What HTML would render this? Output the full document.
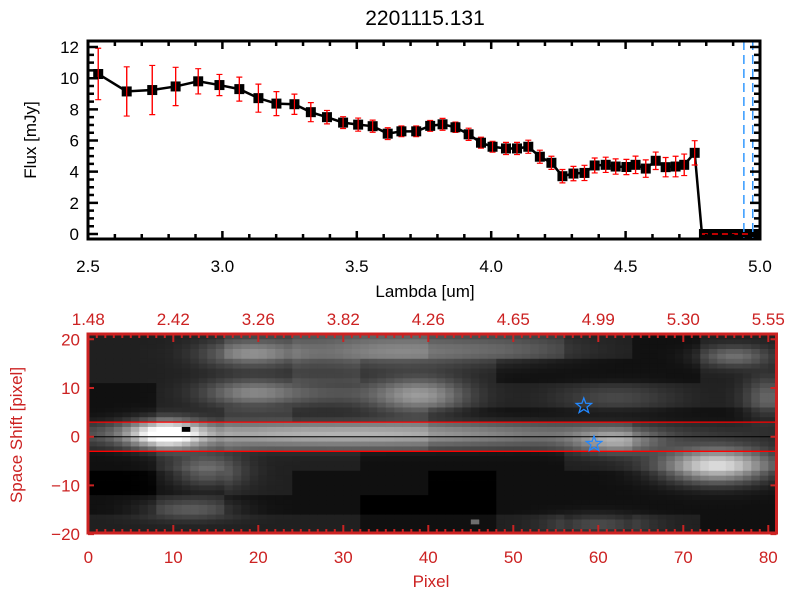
<!DOCTYPE html>
<html><head><meta charset="utf-8">
<style>
html,body{margin:0;padding:0;background:#fff;}
svg{display:block;font-family:"Liberation Sans","DejaVu Sans",sans-serif;}
</style></head>
<body>
<svg id="chart" width="800" height="600" viewBox="0 0 800 600">
  <defs><clipPath id="imgClip"><rect x="88" y="334" width="688.5" height="199"/></clipPath></defs>
  <rect x="0" y="0" width="800" height="600" fill="#fff"/>
  <text x="425" y="25" font-size="21" text-anchor="middle" fill="#000">2201115.131</text>
  <g id="topPanel"></g>
  <g id="bottomPanel"></g>
</svg>
<script>
// ---------- spectrum data ----------
const lambda = [2.538,2.644,2.739,2.826,2.910,2.989,3.063,3.134,3.201,3.268,3.329,3.389,3.449,3.505,3.559,3.615,3.666,3.721,3.773,3.819,3.867,3.916,3.962,4.005,4.055,4.096,4.138,4.181,4.224,4.265,4.306,4.347,4.385,4.426,4.463,4.503,4.537,4.575,4.612,4.649,4.686,4.718,4.757];
const flux = [10.27,9.15,9.24,9.47,9.8,9.56,9.3,8.72,8.37,8.33,7.82,7.5,7.15,7.02,6.92,6.44,6.59,6.59,6.94,7.04,6.85,6.4,5.86,5.6,5.49,5.49,5.6,4.96,4.57,3.71,3.88,3.92,4.4,4.44,4.33,4.3,4.44,4.2,4.7,4.29,4.33,4.44,5.21];
const fluxErr = [1.65,1.58,1.58,1.23,0.81,0.68,0.77,0.9,0.77,0.65,0.61,0.43,0.38,0.42,0.39,0.38,0.34,0.34,0.35,0.38,0.33,0.39,0.35,0.35,0.39,0.39,0.42,0.42,0.42,0.43,0.46,0.49,0.48,0.49,0.49,0.49,0.56,0.56,0.56,0.62,0.66,0.69,0.78];
const zeroLambda = [4.784,5.0];
const markerLambda = [4.94,4.973];
const xTicks = ["2.5","3.0","3.5","4.0","4.5","5.0"];
const yTicks = ["0","2","4","6","8","10","12"];
// ---------- image data ----------
const topTickLabels = ["1.48","2.42","3.26","3.82","4.26","4.65","4.99","5.30","5.55"];
const pixTicks = ["0","10","20","30","40","50","60","70","80"];
const shiftTicks = ["-20","-10","0","10","20"];
const bgLevels = [
 [2,2,3,4,4,3,3,2,1,2],
 [2,2,2,3,2,2,1,1,1,2],
 [1,2,2,2,2,2,2,2,2,2],
 [1,2,3,2,2,1,1,1,1,1],
 [2,3,4,4,4,3,3,3,2,2],
 [1,2,2,2,1,1,1,2,2,2],
 [0,1,2,1,1,0,1,1,1,1],
 [1,2,1,1,0,0,1,1,1,1],
 [2,2,2,2,1,1,2,1,2,1]];
const bgBandTop = [21,16,11,6,3,-3,-7,-12,-16];
const blobCol   = [9,  30, 62, 19, 36, 50, 19, 39, 28, 62, 14, 74, 76, 12, 60, 80];
const blobShift = [0.5,0.5,-1, 17, 17.5,18, 9, 8.5,9, 8, -7, -6, 16.5,-15,-18, 8];
const blobSC    = [3,  22, 3.5,4,  8,  6,  4, 4,  5, 5, 3, 4.5,3, 4, 4, 2];
const blobSS    = [2,  1.8,1.8,2,  2.5,2,  2, 2.5,2, 2, 2.5,2.5,1.5,1.5,1.5,3];
const blobAmp   = [200,115,100,90, 70, 35, 95,120,45,40,80, 190,80,60,60,70];
const darkCells = [[11,2]];
const grayCells = [[45,-17,110]];
const starCol = [58.3,59.5];
const starShift = [6.3,-1.5];
const apertureShift = [3,-3];

const NS='http://www.w3.org/2000/svg';
function mk(parent,tag,attrs){const el=document.createElementNS(NS,tag);for(const k in attrs)el.setAttribute(k,attrs[k]);parent.appendChild(el);return el;}

// ---------- top panel ----------
const topG = document.getElementById('topPanel');
const X0=88,X1=760,YT=41,YB=239;
const xs = v => X0 + (v-2.5)*(X1-X0)/2.5;
const ys = v => 234 - v*15.58;
let pts = lambda.map((l,i)=>xs(l)+','+ys(flux[i]));
pts.push(xs(zeroLambda[0])+','+ys(0));
const line = mk(topG,'polyline',{points:pts.join(' '),fill:'none',stroke:'#000','stroke-width':2.5});


lambda.forEach((l,i)=>{
  const x=xs(l);
  const eb=mk(topG,'path',{d:`M${x},${ys(flux[i]+fluxErr[i])}V${ys(flux[i]-fluxErr[i])}M${x-3},${ys(flux[i]+fluxErr[i])}h6M${x-3},${ys(flux[i]-fluxErr[i])}h6`,stroke:'#ff0000','stroke-width':1.2,fill:'none'});
  
  
});
lambda.forEach((l,i)=>{
  const x=xs(l),y=ys(flux[i]);
  const m=mk(topG,'rect',{x:x-5,y:y-5,width:10,height:10,fill:'#000'});
  
  
  const eb=mk(topG,'path',{d:`M${x},${ys(flux[i]+fluxErr[i])}V${ys(flux[i]-fluxErr[i])}`,stroke:'#ff0000','stroke-width':1.2});
  
  
});
const zb=mk(topG,'rect',{x:xs(zeroLambda[0])-3,y:229,width:xs(zeroLambda[1])-xs(zeroLambda[0])+3,height:10,fill:'#000'});


const zd=mk(topG,'line',{x1:xs(zeroLambda[0]),x2:xs(zeroLambda[1]),y1:ys(0),y2:ys(0),stroke:'#ff0000','stroke-width':1.5,'stroke-dasharray':'6,4'});


markerLambda.forEach(l=>{
  const v=mk(topG,'line',{x1:xs(l),x2:xs(l),y1:YT,y2:YB,stroke:'#3399ff','stroke-width':1.5,'stroke-dasharray':'9,5'});
  
  
});
const fr=mk(topG,'rect',{x:X0,y:YT,width:X1-X0,height:YB-YT,fill:'none',stroke:'#000','stroke-width':3});


let tk='';
for(let i=0;i<=25;i++){const x=xs(2.5+i*0.1);const L=(i%5==0)?8:5;tk+=`M${x},${YB}v${-L}M${x},${YT}v${L}`;}
for(let i=0;i<=24;i++){const y=ys(i*0.5);if(y<YT)continue;const L=(i%4==0)?10:6;tk+=`M${X0},${y}h${L}M${X1},${y}h${-L}`;}
const tp=mk(topG,'path',{d:tk,stroke:'#000','stroke-width':2.5});


xTicks.forEach(t=>{
  const el=mk(topG,'text',{x:xs(parseFloat(t)),y:272,'font-size':17,'text-anchor':'middle',fill:'#000'});
  el.textContent=t;
  
  
});
yTicks.forEach(t=>{
  const el=mk(topG,'text',{x:79,y:ys(parseFloat(t))+6,'font-size':17,'text-anchor':'end',fill:'#000'});
  el.textContent=t;
  
  
});
let tx=mk(topG,'text',{x:425,y:297,'font-size':17,'text-anchor':'middle',fill:'#000'});
tx.textContent='Lambda [um]';


tx=mk(topG,'text',{x:0,y:0,'font-size':17,'text-anchor':'middle',fill:'#000',transform:'translate(36,140) rotate(-90)'});
tx.textContent='Flux [mJy]';



// ---------- bottom panel ----------
const botG=document.getElementById('bottomPanel');
const BX0=88.3, BXW=8.5, BY0=436.7, BYH=4.87, BL=88, BR=776.5, BT=334, BB=533;
const px = c => BX0 + c*BXW;
const py = s => BY0 - s*BYH;
const img=mk(botG,'g',{'clip-path':'url(#imgClip)'});


function bgAt(c,s){let r=0;for(let i=0;i<bgBandTop.length;i++){if(s<=bgBandTop[i])r=i;}const g=Math.min(9,Math.floor(c/8));return bgLevels[r][g]*16;}
for(let c=0;c<81;c++){
  for(let s=22;s>-21;s--){
    const sc=s-0.5;
    let v=bgAt(c,sc);
    for(let b=0;b<blobCol.length;b++){
      const dc=(c+0.5-blobCol[b])/blobSC[b], ds=(sc-blobShift[b])/blobSS[b];
      v+=blobAmp[b]*Math.exp(-0.5*(dc*dc+ds*ds));
    }
    darkCells.forEach(d=>{if(d[0]==c&&d[1]==s)v=0;});
    grayCells.forEach(d=>{if(d[0]==c&&d[1]==s)v=d[2];});
    v=Math.max(0,Math.min(255,Math.round(v)));
    const r=mk(img,'rect',{x:px(c),y:py(s),width:BXW+0.4,height:BYH+0.4,fill:`rgb(${v},${v},${v})`});
    
    
  }
}
apertureShift.forEach(s=>{
  const l=mk(botG,'line',{x1:BL,x2:BR,y1:py(s),y2:py(s),stroke:'#ff0000','stroke-width':1.3});
  
  
});
const cl=mk(botG,'line',{x1:BL,x2:BR,y1:py(0),y2:py(0),stroke:'#000','stroke-width':1});


function star(cx,cy,R){let p=[];for(let i=0;i<10;i++){const a=-Math.PI/2+i*Math.PI/5;const rr=i%2?R*0.42:R;p.push((cx+rr*Math.cos(a)).toFixed(1)+','+(cy+rr*Math.sin(a)).toFixed(1));}return p.join(' ');}
starCol.forEach((c,i)=>{
  const s=mk(botG,'polygon',{points:star(px(c),py(starShift[i]),8),fill:'none',stroke:'#2288ff','stroke-width':1.3});
  
  
});
const RED='#cc2222';
const bf=mk(botG,'rect',{x:BL,y:BT,width:BR-BL,height:BB-BT,fill:'none',stroke:RED,'stroke-width':3});


let bt='';
for(let c=0;c<=81;c++){const x=px(c);const L=(c%10==0)?8:4;bt+=`M${x},${BB}v${-L}M${x},${BT}v${L}`;}
for(let s=-20;s<=20;s+=10){const y=py(s);bt+=`M${BL},${y}h6M${BR},${y}h-6`;}
const btp=mk(botG,'path',{d:bt,stroke:RED,'stroke-width':2});


pixTicks.forEach(t=>{
  const el=mk(botG,'text',{x:px(parseFloat(t)),y:563,'font-size':17,'text-anchor':'middle',fill:RED});
  el.textContent=t;
  
  
});
topTickLabels.forEach((t,i)=>{
  const el=mk(botG,'text',{x:px(i*10),y:325,'font-size':17,'text-anchor':'middle',fill:RED});
  el.textContent=t;
  
  
});
shiftTicks.forEach(t=>{
  const el=mk(botG,'text',{x:80,y:py(parseFloat(t))+6,'font-size':17,'text-anchor':'end',fill:RED});
  el.textContent=t.replace('-','\u2212');
  
  
});
tx=mk(botG,'text',{x:431,y:587,'font-size':17,'text-anchor':'middle',fill:RED});
tx.textContent='Pixel';


tx=mk(botG,'text',{x:0,y:0,'font-size':17,'text-anchor':'middle',fill:RED,transform:'translate(22,435) rotate(-90)'});
tx.textContent='Space Shift [pixel]';


</script>
</body></html>
